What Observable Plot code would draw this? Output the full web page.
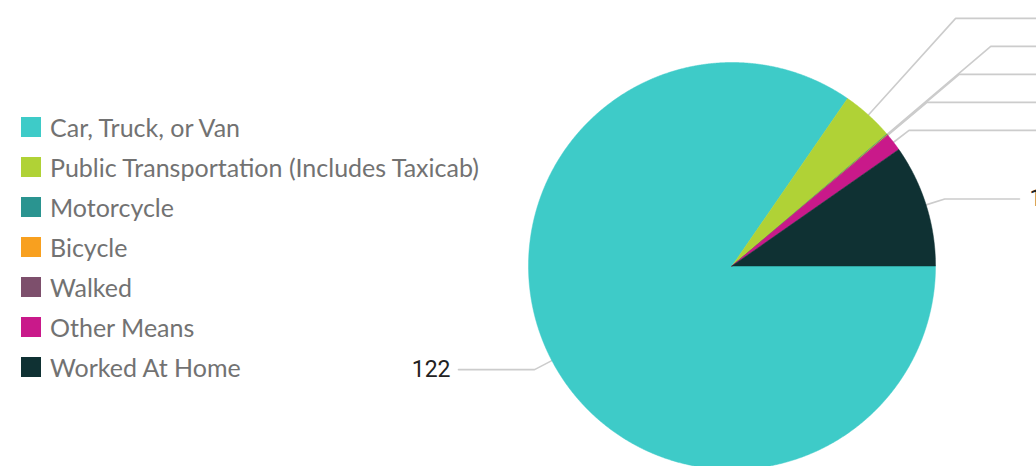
<!DOCTYPE html>
<html><head><meta charset="utf-8">
<script src="https://cdn.jsdelivr.net/npm/d3@7"></script>
<script src="https://cdn.jsdelivr.net/npm/@observablehq/plot@0.6"></script>
<style>
body{margin:0;background:#fff;}
#wrap{position:relative;width:1036px;height:466px;overflow:hidden;}
#chart{position:absolute;left:0;top:0;}
#legend{position:absolute;left:21px;top:107px;font-family:Lato, "Noto Sans", sans-serif;font-size:25px;color:#727272;}
.item{height:40px;display:flex;align-items:center;white-space:nowrap;}
.sw{width:20px;height:20px;margin-right:9px;flex:none;}
</style></head>
<body><div id="wrap"><div id="chart"></div><div id="legend"></div></div>
<script>
const categories = ["Car, Truck, or Van","Public Transportation (Includes Taxicab)","Motorcycle","Bicycle","Walked","Other Means","Worked At Home"];
const values = [122, 6, 0.08, 0.07, 0.04, 2, 14];
const valueLabels = ["122","6","0.08","0.07","0.04","2","14"];
const colors = ["#3ecbc8","#b0d236","#2a9490","#f8a01f","#7d4f6c","#c9198a","#0f3133"];

const W = 1036, H = 466, cx = 731.5, cy = 265.5, r = 203.5;
const labelR = r + 19.5, rowGap = 28, rightEnd = 1019, leftEnd = 458;

const total = d3.sum(values);
let acc = 0;
const slices = values.map((v, i) => {
  const a0 = acc / total * 2 * Math.PI; acc += v;
  const a1 = acc / total * 2 * Math.PI;
  return {cat: categories[i], label: valueLabels[i], a0, a1, mid: (a0 + a1) / 2};
});
// data units: radius = 1, y up; angle measured clockwise from 3 o'clock
const toU = px => (px - cx) / r, toV = py => (cy - py) / r;
const pts = [];
for (const s of slices) {
  pts.push({cat: s.cat, x: 0, y: 0});
  const n = Math.max(2, Math.ceil((s.a1 - s.a0) / (0.25 * Math.PI / 180)));
  for (let k = 0; k <= n; k++) {
    const a = s.a0 + (s.a1 - s.a0) * k / n;
    pts.push({cat: s.cat, x: Math.cos(a), y: -Math.sin(a)});
  }
  pts.push({cat: s.cat, x: 0, y: 0});
}
// label layout
const lab = slices.map(s => ({...s, side: Math.cos(s.mid) >= 0 ? "right" : "left",
  naive: cy + labelR * Math.sin(s.mid)}));
for (const side of ["right","left"]) {
  const g = lab.filter(d => d.side === side).sort((a, b) => a.naive - b.naive);
  for (let i = g.length - 1; i >= 0; i--) {
    g[i].py = i === g.length - 1 ? g[i].naive : Math.min(g[i].naive, g[i + 1].py - rowGap);
  }
  g.forEach((d, i) => {
    const prev = g[i - 1], next = g[i + 1];
    d.crowded = (prev && d.py - prev.py < rowGap + 1) || (next && next.py - d.py < rowGap + 1);
  });
}
const conn = [];
for (const d of lab) {
  const dx = Math.cos(d.mid), dy = Math.sin(d.mid);
  const ex = cx + r * dx, ey = cy + r * dy;
  const crookX = cx + (d.py - cy) * dx / dy;
  const far = d.side === "right" && d.crowded;
  const endX = d.side === "right" ? (far ? W + 30 : rightEnd) : leftEnd;
  d.textX = d.side === "right" ? (far ? W + 40 : rightEnd + 10) : leftEnd - 8;
  for (const [px, py] of [[ex, ey], [crookX, d.py], [endX, d.py]]) conn.push({cat: d.cat, x: toU(px), y: toV(py)});
}
const labRows = lab.map(d => ({...d, x: toU(d.textX), y: toV(d.py)}));

const plot = Plot.plot({
  width: W, height: H, margin: 0,
  x: {domain: [toU(0), toU(W)], axis: null},
  y: {domain: [toV(H), toV(0)], axis: null},
  color: {domain: categories, range: colors},
  style: {overflow: "visible"},
  marks: [
    Plot.line(conn, {x: "x", y: "y", z: "cat", stroke: "#cccccc", strokeWidth: 1.6, curve: "linear"}),
    Plot.line(pts, {x: "x", y: "y", z: "cat", fill: "cat", stroke: "cat", strokeWidth: 0.5, curve: "linear"}),
    Plot.text(labRows.filter(d => d.side === "right"), {x: "x", y: "y", text: "label", textAnchor: "start", fontSize: 23, fill: "#222", fontFamily: "Roboto, sans-serif"}),
    Plot.text(labRows.filter(d => d.side === "left"), {x: "x", y: "y", text: "label", textAnchor: "end", fontSize: 23, fill: "#222", fontFamily: "Roboto, sans-serif"})
  ]
});
document.getElementById("chart").appendChild(plot);

const leg = document.getElementById("legend");
categories.forEach((c, i) => {
  const it = document.createElement("div"); it.className = "item";
  const sw = document.createElement("div"); sw.className = "sw"; sw.style.background = colors[i];
  const t = document.createElement("span"); t.textContent = c;
  it.appendChild(sw); it.appendChild(t); leg.appendChild(it);
});
</script>
</body></html>
